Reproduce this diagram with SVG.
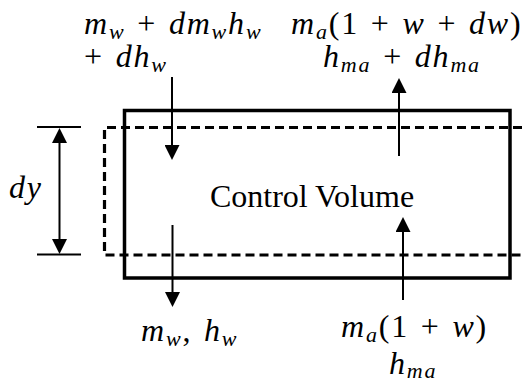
<svg xmlns="http://www.w3.org/2000/svg" width="524" height="383" viewBox="0 0 524 383">
<defs>
<style>
.m{font-family:"Liberation Serif","Times New Roman",serif;font-style:italic;font-size:32px;fill:#000;letter-spacing:1.8px;word-spacing:2px}
.u{font-style:normal}
.s{font-size:22px}
.t{font-family:"Liberation Serif","Times New Roman",serif;font-size:32px;fill:#000}
.ln{stroke:#000;stroke-width:2;fill:none}
.ar{stroke:#000;stroke-width:2;fill:none;marker-end:url(#ah)}
.dash{stroke:#000;stroke-width:3.2;stroke-dasharray:9 5;fill:none}
</style>
<marker id="ah" viewBox="0 0 15 15" refX="0" refY="7.5" markerWidth="15" markerHeight="15" markerUnits="userSpaceOnUse" orient="auto-start-reverse">
<path d="M0,0 L15,7.5 L0,15 z" fill="#000"/>
</marker>
</defs>
<rect width="524" height="383" fill="#fff"/>
<g id="dashed-volume">
<path class="dash" d="M107,127.5 H524"/>
<path class="dash" d="M104.5,130 V255 H524"/>
</g>
<g id="control-volume">
<rect x="124.5" y="110.5" width="385.5" height="167.5" fill="none" stroke="#000" stroke-width="3.5"/>
<text class="t" x="312" y="207" text-anchor="middle">Control Volume</text>
</g>
<g id="dy-dimension">
<path class="ln" d="M37,127 H81 M37,254.5 H81"/>
<text class="m" x="9" y="198">dy</text>
</g>
<g id="connectors">
<path class="ar" d="M172,77 V145"/>
<path class="ar" d="M172.5,225 V292"/>
<path class="ar" d="M399,156 V93"/>
<path class="ar" d="M403,300 V232"/>
<path class="ln" d="M59.5,143 V239" marker-start="url(#ah)" marker-end="url(#ah)"/>
</g>
<g id="label-water-in">
<text class="m" x="84" y="34">m<tspan class="s" dy="5">w</tspan><tspan dy="-5"> <tspan class="u">+</tspan> dm</tspan><tspan class="s" dy="5">w</tspan><tspan dy="-5">h</tspan><tspan class="s" dy="5">w</tspan></text>
<text class="m" x="84" y="67"><tspan class="u">+</tspan> dh<tspan class="s" dy="5">w</tspan></text>
</g>
<g id="label-air-out">
<text class="m" x="291" y="34">m<tspan class="s" dy="5">a</tspan><tspan dy="-5" class="u">(1 + </tspan>w<tspan class="u"> + </tspan>dw<tspan class="u">)</tspan></text>
<text class="m" x="323" y="67">h<tspan class="s" dy="5">ma</tspan><tspan dy="-5"> <tspan class="u">+</tspan> dh</tspan><tspan class="s" dy="5">ma</tspan></text>
</g>
<g id="label-water-out">
<text class="m" x="141" y="341">m<tspan class="s" dy="5">w</tspan><tspan dy="-5" class="u">, </tspan>h<tspan class="s" dy="5">w</tspan></text>
</g>
<g id="label-air-in">
<text class="m" x="341" y="337">m<tspan class="s" dy="5">a</tspan><tspan dy="-5" class="u">(1 + </tspan>w<tspan class="u">)</tspan></text>
<text class="m" x="389" y="374">h<tspan class="s" dy="4">ma</tspan></text>
</g>
</svg>
